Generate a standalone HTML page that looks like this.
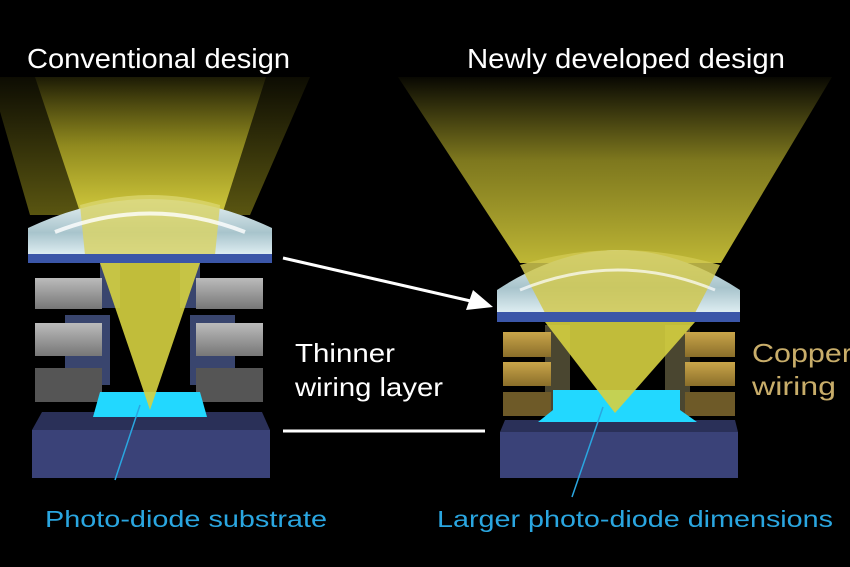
<!DOCTYPE html>
<html><head><style>body{margin:0;background:#000}svg{display:block}</style></head><body>
<svg width="850" height="567" viewBox="0 0 850 567" xmlns="http://www.w3.org/2000/svg" font-family="Liberation Sans, sans-serif">
<defs>
<linearGradient id="beam" x1="0" y1="0" x2="0" y2="1"><stop offset="0" stop-color="#a8a020" stop-opacity="0.1"/><stop offset="0.5" stop-color="#b8b028" stop-opacity="0.7"/><stop offset="1" stop-color="#d8d040" stop-opacity="0.95"/></linearGradient>
<linearGradient id="beamO" x1="0" y1="0" x2="0" y2="1"><stop offset="0" stop-color="#807a18" stop-opacity="0.1"/><stop offset="1" stop-color="#807a18" stop-opacity="0.7"/></linearGradient>
<linearGradient id="beamR" x1="0" y1="0" x2="0" y2="1"><stop offset="0" stop-color="#a8a028" stop-opacity="0.05"/><stop offset="0.45" stop-color="#a8a028" stop-opacity="0.75"/><stop offset="1" stop-color="#c8c038" stop-opacity="0.95"/></linearGradient>
<linearGradient id="lens" x1="0" y1="0" x2="0" y2="1"><stop offset="0" stop-color="#e8f2f4"/><stop offset="0.6" stop-color="#a8c4cc"/><stop offset="1" stop-color="#dfeef2"/></linearGradient>
<linearGradient id="grey" x1="0" y1="0" x2="0" y2="1"><stop offset="0" stop-color="#bbb"/><stop offset="1" stop-color="#777"/></linearGradient>
<linearGradient id="gold" x1="0" y1="0" x2="0" y2="1"><stop offset="0" stop-color="#c9a54a"/><stop offset="1" stop-color="#8a6e2a"/></linearGradient>
</defs>
<rect width="850" height="567" fill="#000"/>
<!-- left beams -->
<polygon points="-10,77 310,77 250,215 30,215" fill="url(#beamO)"/>
<polygon points="35,77 266,77 222,215 81,215" fill="url(#beam)"/>
<!-- left lens -->
<path d="M28,255 L28,228 Q150,170 272,228 L272,255 Z" fill="url(#lens)"/>
<path d="M80,205 Q150,185 220,205 L215,255 L85,255 Z" fill="#d8d46a" opacity="0.85"/>
<path d="M55,232 Q150,195 245,232" stroke="#fff" stroke-width="4" fill="none" opacity="0.8"/>
<rect x="28" y="254" width="244" height="9" fill="#3b56a8"/>
<!-- left blocks -->
<g fill="#39456e"><rect x="65" y="315" width="45" height="70"/><rect x="190" y="315" width="45" height="70"/><rect x="100" y="263" width="20" height="45"/><rect x="180" y="263" width="20" height="45"/></g>
<g fill="url(#grey)"><rect x="35" y="278" width="67" height="31"/><rect x="35" y="323" width="67" height="33"/><rect x="35" y="368" width="67" height="34" fill="#555"/><rect x="196" y="278" width="67" height="31"/><rect x="196" y="323" width="67" height="33"/><rect x="196" y="368" width="67" height="34" fill="#555"/></g>
<!-- substrate left -->
<polygon points="42,412 262,412 270,430 32,430" fill="#2a3058"/>
<rect x="32" y="430" width="238" height="48" fill="#3a4278"/>
<polygon points="100,392 200,392 207,417 93,417" fill="#22d8ff"/>
<polygon points="100,263 200,263 150,410" fill="#d6d240" opacity="0.9"/>
<line x1="140" y1="405" x2="115" y2="480" stroke="#2aa6e0" stroke-width="1.5"/>
<!-- right beam -->
<polygon points="398,77 832,77 721,263 520,263" fill="url(#beamR)"/>
<!-- right lens -->
<path d="M497,313 L497,290 Q618,210 740,290 L740,313 Z" fill="url(#lens)"/>
<path d="M520,265 Q618,235 720,265 L695,313 L545,313 Z" fill="#d0c850" opacity="0.85"/>
<path d="M520,290 Q618,250 715,290" stroke="#fff" stroke-width="3" fill="none" opacity="0.7"/>
<rect x="497" y="312" width="243" height="10" fill="#3b56a8"/>
<g fill="#4a4630"><rect x="545" y="325" width="25" height="90"/><rect x="665" y="325" width="25" height="90"/></g>
<g fill="url(#gold)"><rect x="503" y="332" width="48" height="25"/><rect x="503" y="362" width="48" height="24"/><rect x="503" y="392" width="48" height="24" fill="#6e5a28"/><rect x="685" y="332" width="50" height="25"/><rect x="685" y="362" width="50" height="24"/><rect x="685" y="392" width="50" height="24" fill="#6e5a28"/></g>
<polygon points="505,420 735,420 738,432 500,432" fill="#2a3058"/>
<rect x="500" y="432" width="238" height="46" fill="#3a4278"/>
<polygon points="553,390 680,390 680,410 697,422 538,422 553,410" fill="#22d8ff"/>
<polygon points="545,322 695,322 615,413" fill="#d6d040" opacity="0.9"/>
<line x1="603" y1="407" x2="572" y2="497" stroke="#2aa6e0" stroke-width="1.5"/>
<!-- connectors -->
<line x1="283" y1="258" x2="475" y2="302" stroke="#fff" stroke-width="3"/>
<polygon points="493,307 466,310 473,290" fill="#fff"/>
<line x1="283" y1="431" x2="485" y2="431" stroke="#fff" stroke-width="3"/>
<!-- text -->
<g fill="#fff" font-size="28"><text x="27" y="68" textLength="263" lengthAdjust="spacingAndGlyphs">Conventional design</text><text x="467" y="68" textLength="318" lengthAdjust="spacingAndGlyphs">Newly developed design</text></g>
<g fill="#fff" font-size="26"><text x="295" y="362" textLength="100" lengthAdjust="spacingAndGlyphs">Thinner</text><text x="295" y="396" textLength="148" lengthAdjust="spacingAndGlyphs">wiring layer</text></g>
<g fill="#c8ad6a" font-size="26"><text x="752" y="362" textLength="100" lengthAdjust="spacingAndGlyphs">Copper</text><text x="752" y="395" textLength="84" lengthAdjust="spacingAndGlyphs">wiring</text></g>
<g fill="#2aa6e0" font-size="23"><text x="45" y="527" textLength="282" lengthAdjust="spacingAndGlyphs">Photo-diode substrate</text><text x="437" y="527" textLength="396" lengthAdjust="spacingAndGlyphs">Larger photo-diode dimensions</text></g>
</svg>
</body></html>
